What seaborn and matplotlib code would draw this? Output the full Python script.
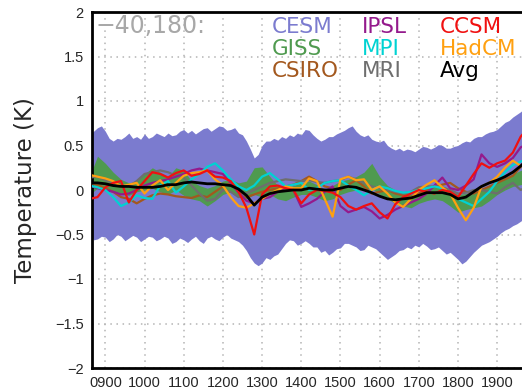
import numpy as np
import pandas as pd
import seaborn as sns
import matplotlib.pyplot as plt
from matplotlib.ticker import FuncFormatter

# years on a 20-year grid for the model lines
years = list(range(860, 1981, 20))
# 10-year grid for the CESM spread
years_band = list(range(860, 1981, 10))

# CESM ensemble spread (shaded band), one row per century starting 860
cesm_hi = [0.62, 0.66, 0.70, 0.72, 0.66, 0.58, 0.55, 0.58, 0.57, 0.60,
           0.64, 0.58, 0.60, 0.57, 0.63, 0.58, 0.60, 0.64, 0.62, 0.60,
           0.64, 0.61, 0.62, 0.66, 0.68, 0.64, 0.67, 0.63, 0.66, 0.69,
           0.70, 0.66, 0.69, 0.72, 0.71, 0.67, 0.68, 0.70, 0.64, 0.62,
           0.55, 0.46, 0.36, 0.40, 0.50, 0.55, 0.55, 0.58, 0.56, 0.60,
           0.58, 0.62, 0.60, 0.64, 0.62, 0.68, 0.67, 0.62, 0.58, 0.55,
           0.57, 0.60, 0.60, 0.63, 0.65, 0.67, 0.70, 0.72, 0.66, 0.62,
           0.60, 0.62, 0.57, 0.55, 0.54, 0.56, 0.50, 0.47, 0.45, 0.47,
           0.44, 0.46, 0.45, 0.43, 0.46, 0.49, 0.48, 0.46, 0.48, 0.51,
           0.50, 0.47, 0.47, 0.49, 0.50, 0.53, 0.55, 0.54, 0.58, 0.60,
           0.60, 0.63, 0.65, 0.66, 0.68, 0.72, 0.76, 0.78, 0.82, 0.85,
           0.88, 0.92, 0.95]
cesm_lo = [-0.50, -0.56, -0.55, -0.52, -0.53, -0.58, -0.55, -0.50, -0.52, -0.57,
           -0.54, -0.51, -0.53, -0.58, -0.55, -0.52, -0.53, -0.57, -0.55, -0.52,
           -0.54, -0.60, -0.58, -0.54, -0.56, -0.59, -0.55, -0.52, -0.57, -0.60,
           -0.54, -0.52, -0.55, -0.57, -0.53, -0.50, -0.54, -0.56, -0.58, -0.62,
           -0.68, -0.76, -0.82, -0.85, -0.82, -0.76, -0.78, -0.74, -0.72, -0.66,
           -0.60, -0.56, -0.57, -0.62, -0.60, -0.57, -0.60, -0.64, -0.64, -0.70,
           -0.68, -0.73, -0.70, -0.66, -0.65, -0.60, -0.60, -0.62, -0.64, -0.68,
           -0.67, -0.62, -0.64, -0.66, -0.70, -0.74, -0.78, -0.75, -0.72, -0.68,
           -0.67, -0.64, -0.66, -0.62, -0.64, -0.60, -0.63, -0.67, -0.66, -0.64,
           -0.68, -0.72, -0.70, -0.74, -0.78, -0.83, -0.80, -0.75, -0.70, -0.66,
           -0.62, -0.60, -0.58, -0.55, -0.52, -0.48, -0.45, -0.43, -0.40, -0.38,
           -0.35, -0.32, -0.30]

# GISS spread (green band)
giss_hi = [0.15, 0.38, 0.30, 0.20, 0.12, 0.08, 0.10, 0.18, 0.25, 0.20,
           0.15, 0.25, 0.22, 0.10, 0.05, 0.02, 0.05, 0.10, 0.12, 0.08,
           0.10, 0.25, 0.26, 0.15, 0.05, 0.02, 0.05, 0.08, 0.10, 0.06,
           0.00, 0.05, 0.10, 0.12, 0.15, 0.20, 0.30, 0.15, 0.05, 0.00,
           -0.02, -0.05, -0.02, 0.02, 0.05, 0.04, 0.00, -0.05, -0.04, -0.02,
           0.00, 0.04, 0.10, 0.14, 0.18, 0.22, 0.25]
giss_lo = [-0.05, 0.02, 0.00, -0.02, -0.05, -0.06, -0.02, 0.00, 0.02, -0.02,
           -0.05, 0.00, -0.06, -0.10, -0.12, -0.18, -0.12, -0.05, -0.02, -0.08,
           -0.10, -0.05, -0.08, -0.05, -0.10, -0.12, -0.08, -0.05, -0.05, -0.08,
           -0.12, -0.10, -0.05, -0.02, 0.00, 0.00, 0.02, -0.05, -0.10, -0.15,
           -0.18, -0.20, -0.15, -0.12, -0.10, -0.12, -0.18, -0.25, -0.22, -0.20,
           -0.18, -0.12, -0.05, 0.00, 0.04, 0.06, 0.08]

# single-model series
csiro = [0.08, 0.06, 0.02, -0.02, -0.08, -0.10, -0.15, -0.10, -0.06, -0.04,
         -0.05, -0.07, -0.08, -0.09, -0.06, -0.08, -0.02, 0.04, 0.08, 0.00,
         -0.08, -0.05, -0.02, 0.00, 0.02, 0.04, 0.06, 0.10, 0.15, 0.10,
         0.04, 0.02, 0.00, 0.06, 0.11, 0.04, -0.04, -0.02, 0.00, -0.04,
         -0.06, -0.08, -0.04, 0.00, 0.04, 0.06, 0.08, 0.02, -0.02, -0.04,
         0.00, 0.04, 0.08, 0.12, 0.16, 0.26, 0.30]
mri = [0.14, 0.15, 0.11, 0.08, 0.05, 0.04, 0.10, 0.18, 0.20, 0.22,
       0.20, 0.16, 0.14, 0.05, -0.04, -0.12, -0.10, 0.00, -0.02, -0.08,
       -0.04, 0.00, 0.04, 0.08, 0.10, 0.12, 0.11, 0.10, 0.11, 0.09,
       0.08, 0.10, 0.11, 0.15, 0.12, 0.08, 0.04, 0.02, 0.00, -0.02,
       -0.04, -0.02, 0.03, 0.04, 0.04, 0.03, 0.00, -0.04, -0.03, 0.00,
       0.00, -0.02, -0.04, 0.03, 0.08, 0.00, 0.05]
ipsl = [0.05, 0.02, 0.00, -0.02, -0.05, -0.04, 0.00, 0.05, 0.08, 0.10,
        0.12, 0.15, 0.18, 0.22, 0.24, 0.22, 0.20, 0.18, 0.08, -0.03,
        -0.12, -0.15, -0.10, -0.08, -0.02, 0.03, 0.00, -0.19, -0.15, -0.10,
        -0.02, 0.04, -0.18, -0.25, -0.22, -0.19, -0.24, -0.32, -0.28, -0.22,
        -0.18, -0.14, -0.10, -0.04, 0.05, 0.14, 0.02, 0.00, 0.05, 0.12,
        0.40, 0.30, 0.26, 0.30, 0.36, 0.48, 0.52]
mpi = [0.05, 0.03, 0.00, -0.08, -0.18, -0.14, -0.06, -0.09, -0.10, 0.05,
       0.10, -0.03, 0.04, 0.12, 0.18, 0.26, 0.30, 0.22, 0.12, 0.04,
       0.00, 0.05, 0.15, 0.19, 0.12, 0.04, 0.06, 0.08, 0.00, 0.02,
       0.08, 0.10, 0.11, 0.05, 0.00, -0.06, 0.00, 0.04, 0.02, -0.01,
       -0.03, -0.02, 0.00, 0.02, 0.04, 0.02, -0.04, -0.10, -0.14, -0.18,
       -0.10, -0.02, 0.10, 0.20, 0.28, 0.32, 0.35]
hadcm = [0.17, 0.15, 0.13, 0.10, 0.04, 0.06, 0.08, -0.04, 0.05, 0.11,
         0.00, 0.08, 0.16, 0.19, 0.20, 0.22, 0.12, 0.05, -0.08, -0.18,
         -0.20, -0.15, -0.10, -0.04, 0.00, 0.04, 0.02, 0.02, 0.13, 0.10,
         -0.10, -0.30, 0.12, 0.15, 0.11, 0.12, 0.00, 0.04, -0.04, -0.14,
         -0.19, -0.10, 0.00, 0.06, 0.11, 0.03, -0.04, -0.20, -0.34, -0.20,
         0.04, 0.08, 0.15, 0.25, 0.33, 0.27, 0.30]
ccsm = [-0.10, -0.08, 0.03, 0.08, 0.10, -0.14, 0.00, 0.10, 0.20, 0.18,
        0.14, 0.19, 0.22, 0.16, 0.18, 0.22, 0.15, 0.14, 0.10, -0.02,
        -0.20, -0.50, -0.05, 0.04, 0.05, 0.02, 0.00, -0.15, -0.05, 0.00,
        -0.01, -0.03, -0.08, -0.18, -0.22, -0.18, -0.15, -0.25, -0.32, -0.16,
        -0.08, -0.04, 0.00, -0.02, -0.04, 0.00, -0.02, -0.08, 0.05, 0.18,
        0.30, 0.25, 0.30, 0.33, 0.42, 0.60, 0.70]
avg = [0.08, 0.08, 0.07, 0.05, 0.04, 0.04, 0.03, 0.03, 0.03, 0.04,
       0.06, 0.06, 0.08, 0.09, 0.08, 0.07, 0.07, 0.06, 0.05, 0.01,
       -0.06, -0.17, -0.08, -0.04, -0.02, -0.01, 0.00, 0.00, 0.02, 0.01,
       0.00, 0.00, 0.02, 0.04, 0.03, 0.00, -0.03, -0.07, -0.10, -0.11,
       -0.10, -0.09, -0.06, -0.03, -0.03, -0.03, -0.05, -0.10, -0.08, -0.02,
       0.04, 0.08, 0.11, 0.15, 0.20, 0.27, 0.35]

colors = {'CESM': '#7b7bcf', 'IPSL': '#941a8c', 'CCSM': '#f01010',
          'GISS': '#4f9a4f', 'MPI': '#00d2d2', 'HadCM': '#ffa010',
          'CSIRO': '#a3581e', 'MRI': '#6e6e6e', 'Avg': '#000000'}

# long table for the model lines
series = {'CSIRO': csiro, 'MRI': mri, 'IPSL': ipsl, 'MPI': mpi,
          'HadCM': hadcm, 'CCSM': ccsm}
df = pd.concat([pd.DataFrame({'year': years, 'temp': v, 'model': k})
                for k, v in series.items()], ignore_index=True)

sns.set_style('white')
plt.rcParams['font.family'] = ['DejaVu Sans']

fig = plt.figure(figsize=(5.22, 3.89), dpi=100)
ax = fig.add_axes([92 / 522, 1 - 368 / 389, 1 - 92 / 522 + 0.002, (368 - 12) / 389])

ax.fill_between(years_band, cesm_lo, cesm_hi, color=colors['CESM'], lw=0, zorder=1)
ax.fill_between(years, giss_lo, giss_hi, color=colors['GISS'], lw=0, zorder=2)
sns.lineplot(data=df, x='year', y='temp', hue='model', palette=colors,
             hue_order=list(series.keys()), linewidth=1.6, legend=False,
             ax=ax, zorder=3)
sns.lineplot(x=years, y=avg, color='black', linewidth=2.0, ax=ax, zorder=4)

ax.set_xlim(866, 1966)
ax.set_ylim(-2, 2)
ax.set_xticks(range(900, 1901, 100))
ax.xaxis.set_major_formatter(FuncFormatter(lambda v, p: '%04d' % v))
ax.set_yticks(np.arange(-2, 2.01, 0.5))
ax.yaxis.set_major_formatter(FuncFormatter(lambda v, p: ('%g' % v).replace('-', '\u2212')))
ax.grid(True, color='#b4b4b4', linestyle=(0, (1, 3)), linewidth=1.1)
ax.set_axisbelow(True)
for s in ['top', 'bottom', 'left']:
    ax.spines[s].set_color('black')
    ax.spines[s].set_linewidth(2)
ax.spines['right'].set_visible(False)
ax.tick_params(axis='both', direction='out', length=4, width=1.2, color='black',
               labelsize=10.5, pad=2)
for lab in ax.get_xticklabels() + ax.get_yticklabels():
    lab.set_fontfamily('Liberation Sans')
ax.set_xlabel('')
ax.set_ylabel('Temperature (K)', fontsize=16.5, labelpad=13)

ax.text(0.008, 0.993, '\u221240,180:', transform=ax.transAxes, ha='left', va='top',
        fontsize=17, color='#a8a8a8')

# coloured model names as legend
legend_rows = [['CESM', 'IPSL', 'CCSM'], ['GISS', 'MPI', 'HadCM'], ['CSIRO', 'MRI', 'Avg']]
col_x = [272, 362, 440]
row_y = [33, 55, 77]
for r, row in enumerate(legend_rows):
    for c, name in enumerate(row):
        fig.text(col_x[c] / 522, 1 - row_y[r] / 389, name, color=colors[name],
                 fontsize=15.5, ha='left', va='baseline')

fig.savefig('out.png', dpi=100)
